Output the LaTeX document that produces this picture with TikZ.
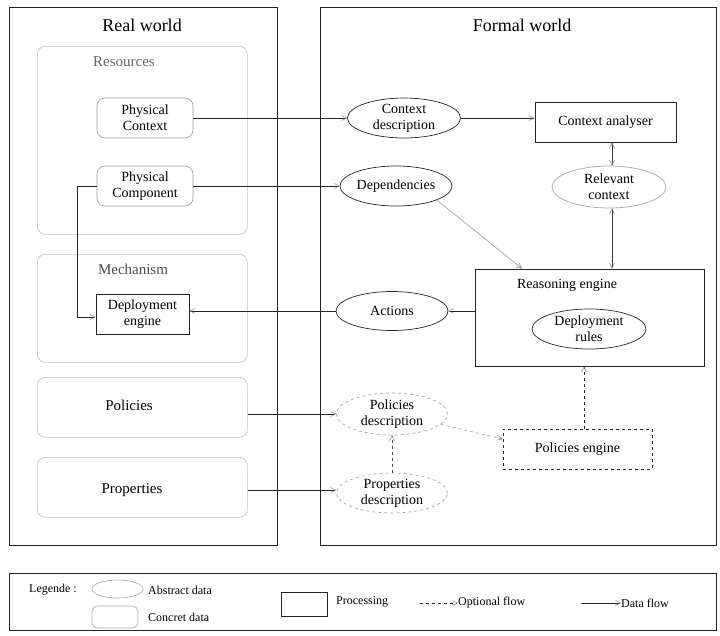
\documentclass[tikz,border=0pt]{standalone}
\usepackage{fontspec}
\setmainfont{Liberation Serif}
\usetikzlibrary{shapes.geometric,arrows.meta,calc}
\tikzset{
  tip/.tip={Straight Barb[length=5pt,width=5pt,line width=0.5pt,color=gray]},
  flow/.style={line width=0.7pt,draw=black!85,-tip},
  bflow/.style={line width=0.7pt,draw=black!75,tip-tip},
  gflow/.style={line width=0.6pt,draw=black!40,-tip},
  world/.style={draw=black!85,line width=0.8pt,anchor=north west,inner sep=0pt},
  group/.style={draw=black!25,line width=0.6pt,rounded corners=8pt,anchor=north west,inner sep=0pt},
  concrete/.style={draw=black!40,line width=0.6pt,rounded corners=8pt,align=center,inner sep=0pt,font=\fontsize{14}{16}\selectfont},
  abstract/.style={ellipse,draw=black!85,line width=0.7pt,align=center,inner sep=0pt,font=\fontsize{14}{16}\selectfont},
  process/.style={draw=black!85,line width=0.8pt,align=center,inner sep=0pt,font=\fontsize{14}{16}\selectfont},
  boxlabel/.style={font=\fontsize{15}{17}\selectfont},
  wtitle/.style={font=\fontsize{18}{20}\selectfont},
  leg/.style={font=\fontsize{12}{14}\selectfont,anchor=west,inner sep=0pt}
}
\begin{document}
\begin{tikzpicture}[x=1pt,y=-1pt]
\useasboundingbox (0,0) rectangle (720,635);
\fill[white] (0,0) rectangle (720,635);
% worlds
\node[world,minimum width=268pt,minimum height=538pt] (realw) at (9,7) {};
\node[world,minimum width=396pt,minimum height=538pt] (formw) at (320,7) {};
\node[wtitle] (rtitle) at (142,25) {Real world};
\node[wtitle] (ftitle) at (522,25) {Formal world};
% groups
\node[group,minimum width=210pt,minimum height=188pt] (resources) at (37,46) {};
\node[boxlabel,text=black!60] (reslab) at (124,62) {Resources};
\node[group,minimum width=210pt,minimum height=108pt] (mechanism) at (37,254) {};
\node[boxlabel,text=black!70] (mechlab) at (133,269) {Mechanism};
\node[group,minimum width=210pt,minimum height=60pt] (policies) at (37,377) {};
\node[boxlabel] (pollab) at (129,405) {Policies};
\node[group,minimum width=210pt,minimum height=60pt] (properties) at (37,457) {};
\node[boxlabel] (proplab) at (132,490) {Properties};
% concrete data
\node[concrete,minimum width=96pt,minimum height=40pt] (pc) at (145,118) {Physical\\Context};
\node[concrete,minimum width=96pt,minimum height=40pt] (pcomp) at (145,186) {Physical\\Component};
\node[process,minimum width=93pt,minimum height=40pt] (de) at (142.5,314) {Deployment\\engine};
% formal
\node[abstract,minimum width=113pt,minimum height=39pt] (cd) at (404,118) {Context\\description};
\node[abstract,minimum width=112pt,minimum height=40pt] (dep) at (396,186) {Dependencies};
\node[process,minimum width=141pt,minimum height=40pt] (ca) at (605.5,122) {Context analyser};
\node[abstract,draw=black!35,minimum width=114pt,minimum height=42pt] (rc) at (609,187) {Relevant\\context};
\node[process,minimum width=229pt,minimum height=97pt] (re) at (589.5,317.5) {};
\node[font=\fontsize{14}{16}\selectfont] (relab) at (567,285) {Reasoning engine};
\node[abstract,minimum width=114pt,minimum height=40pt] (dr) at (589,329) {Deployment\\rules};
\node[abstract,minimum width=112pt,minimum height=39pt] (act) at (392,311) {Actions};
\node[abstract,draw=black!35,dashed,minimum width=111pt,minimum height=42pt] (pold) at (392,414) {Policies\\description};
\node[abstract,draw=black!35,dashed,minimum width=111pt,minimum height=39pt] (propd) at (392,493) {Properties\\description};
\node[process,dashed,minimum width=149pt,minimum height=40pt] (pole) at (577.5,449) {Policies engine};
% helper coordinates
\coordinate (vx) at (612,0);
\coordinate (ex) at (522,0);
\coordinate (dx) at (584,0);
\coordinate (bx) at (77,317);
% connectors
\draw[flow] (pc.east) -- (cd.west);
\draw[flow] (pcomp.east) -- (dep.west);
\draw[flow] (cd.east) -- (cd.east -| ca.west);
\draw[bflow] (ca.south -| vx) -- (rc.north -| vx);
\draw[bflow] (rc.south -| vx) -- (re.north -| vx);
\draw[gflow] (dep.-19) -- (re.north -| ex);
\draw[flow] (re.west |- act.east) -- (act.east);
\draw[flow] (act.west) -- (act.west -| de.east);
\draw[flow] (pcomp.west) -| (bx) -- (bx -| de.west);
\draw[flow] (policies.east |- pold.west) -- (pold.west);
\draw[flow] ([yshift=3pt]properties.east |- propd.west) -- ([yshift=3pt]propd.west);
\draw[flow,dashed,draw=black!70] (propd.north) -- (pold.south);
\draw[gflow,dashed] (pold.-12) -- ([yshift=10pt]pole.west);
\draw[flow,dashed] (pole.north -| dx) -- (re.south -| dx);
% legend
\node[world,minimum width=707pt,minimum height=57pt] (legend) at (9,573) {};
\node[font=\fontsize{12}{14}\selectfont] (legt) at (53,590) {Legende :};
\node[ellipse,draw=black!35,line width=0.6pt,minimum width=51pt,minimum height=18pt,inner sep=0pt] (legab) at (117.5,589) {};
\node[leg] (legabt) at (148,590) {Abstract data};
\node[draw=black!35,line width=0.6pt,rounded corners=6pt,minimum width=46pt,minimum height=22pt,inner sep=0pt] (legco) at (115,617) {};
\node[leg] (legcot) at (148,617) {Concret data};
\node[draw=black!85,line width=0.8pt,minimum width=46pt,minimum height=24pt,inner sep=0pt] (legpr) at (304,604) {};
\node[leg] (legprt) at (336,602) {Processing};
\coordinate (o1) at (420,603);
\node[leg] (legopt) at (458,603) {Optional flow};
\draw[flow,dashed] (o1) -- (legopt.west);
\coordinate (d1) at (581,603);
\node[leg] (legdat) at (621,603) {Data flow};
\draw[flow] (d1) -- (legdat.west);
\end{tikzpicture}
\end{document}
